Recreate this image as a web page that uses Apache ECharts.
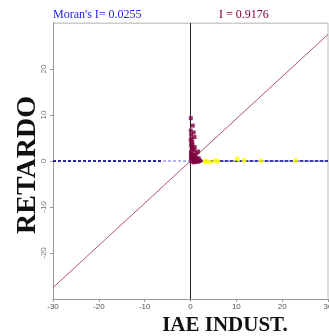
<!DOCTYPE html>
<html><head><meta charset="utf-8">
<script src="https://cdn.jsdelivr.net/npm/echarts@6/dist/echarts.min.js"></script>
<style>html,body{margin:0;padding:0;background:#fff}#c{width:329px;height:336px}</style>
</head><body><div id="c"></div>
<script>
var xTicks = [-30, -20, -10, 0, 10, 20, 30];
var yTicks = [-30, -20, -10, 0, 10, 20, 30];
var slopeI = 0.9176;
var moranLabel = "Moran's I= 0.0255";
var slopeLabel = "I = 0.9176";
// maroon points (x, lag)
var maroonX = [0.07,0.5,0.05,0.7,0.15,0.87,0.05,0.4,0.15,0.93,1.65,1.3,0.2,0.5,0.8,0.1,0.3,0.6,1.0,0.2,0.4,0.7,1.1,1.4,0.1,0.3,0.5,0.9,1.2,1.6,0.2,0.6,1.0,1.5,1.9,0.3,0.8,0.25,0.45,0.1,1.8,2.1,1.3,0.7,1.7];
var maroonY = [9.3,7.7,6.6,6.2,5.7,5.2,4.6,4.1,3.7,3.0,2.05,1.7,3.2,2.6,2.3,2.0,1.6,1.3,1.2,1.0,0.9,0.8,0.7,0.5,0.6,0.4,0.3,0.2,0.1,0.1,0.0,-0.1,0.0,-0.05,0.0,2.8,0.5,4.8,3.4,1.4,0.6,0.1,-0.2,-0.3,-0.1];
// yellow points
var yellowX = [3.2,3.4,4.3,5.4,5.9,10.2,11.7,15.4,22.9];
var yellowY = [-0.1,-0.05,-0.2,0.05,-0.05,0.5,0.15,0.0,0.1];

var chart = echarts.init(document.getElementById('c'));
var grid = {left:53, right:1, top:23, bottom:37, containLabel:false, outerBoundsMode:'none'};
chart.setOption({
  animation:false,
  grid:grid,
  xAxis:{type:'value', min:-30, max:30, interval:10,
    axisLine:{show:true, onZero:false, lineStyle:{color:'#999'}},
    axisTick:{show:true, length:3, lineStyle:{color:'#999'}},
    axisLabel:{fontSize:8, color:'#555', margin:4, fontFamily:'Liberation Sans', hideOverlap:false},
    splitLine:{show:false}},
  yAxis:{type:'value', min:-30, max:30, interval:10,
    axisLine:{show:true, onZero:false, lineStyle:{color:'#999'}},
    axisTick:{show:true, length:3, lineStyle:{color:'#999'}},
    axisLabel:{fontSize:8, color:'#777', rotate:90, margin:5, showMinLabel:false, showMaxLabel:false, fontFamily:'Liberation Sans'},
    splitLine:{show:false}},
  series:[
    {type:'line', data:[[-30,30],[30,30]], symbol:'none', silent:true, lineStyle:{color:'#999', width:1}},
    {type:'line', data:[[30,-30],[30,30]], symbol:'none', silent:true, lineStyle:{color:'#bbb', width:1}},
    {type:'line', data:[[0,-30],[0,30]], symbol:'none', silent:true, lineStyle:{color:'#222', width:1}},
    {type:'line', data:[[-30,0],[30,0]], symbol:'none', silent:true, lineStyle:{color:'#9999ff', width:1.5, type:[3,2]}},
    {type:'line', data:[[-30,0],[-6,0]], symbol:'none', silent:true, lineStyle:{color:'#000080', width:1.5, type:[3,2]}},
    {type:'line', data:[[1,0],[30,0]], symbol:'none', silent:true, lineStyle:{color:'#000080', width:1.5, type:[3,2]}},
    {type:'line', data:[[-30,-30*slopeI],[30,30*slopeI]], symbol:'none', silent:true, lineStyle:{color:'#b0507a', width:1}},
    {type:'scatter', z:5, data:yellowX.map(function(x,i){return [x,yellowY[i]];}), symbol:'circle', symbolSize:5, itemStyle:{color:'#ffff00'}},
    {type:'scatter', z:6, data:maroonX.map(function(x,i){return [x,maroonY[i]];}), symbol:'rect', symbolSize:4, itemStyle:{color:'#800040'}}
  ],
  graphic:[
    {type:'text', left:53, top:9, style:{text:moranLabel, fill:'#2222ee', font:'12px "Liberation Serif"'}},
    {type:'text', left:219, top:9, style:{text:slopeLabel, fill:'#800040', font:'12px "Liberation Serif"'}},
    {type:'text', x:28, y:165, rotation:Math.PI/2, style:{text:'RETARDO', fill:'#111', font:'bold 28px "Liberation Serif"', align:'center', verticalAlign:'middle'}},
    {type:'text', x:225, y:326, style:{text:'IAE INDUST.', fill:'#111', font:'bold 21px "Liberation Serif"', align:'center', verticalAlign:'middle'}}
  ]
});
</script></body></html>
